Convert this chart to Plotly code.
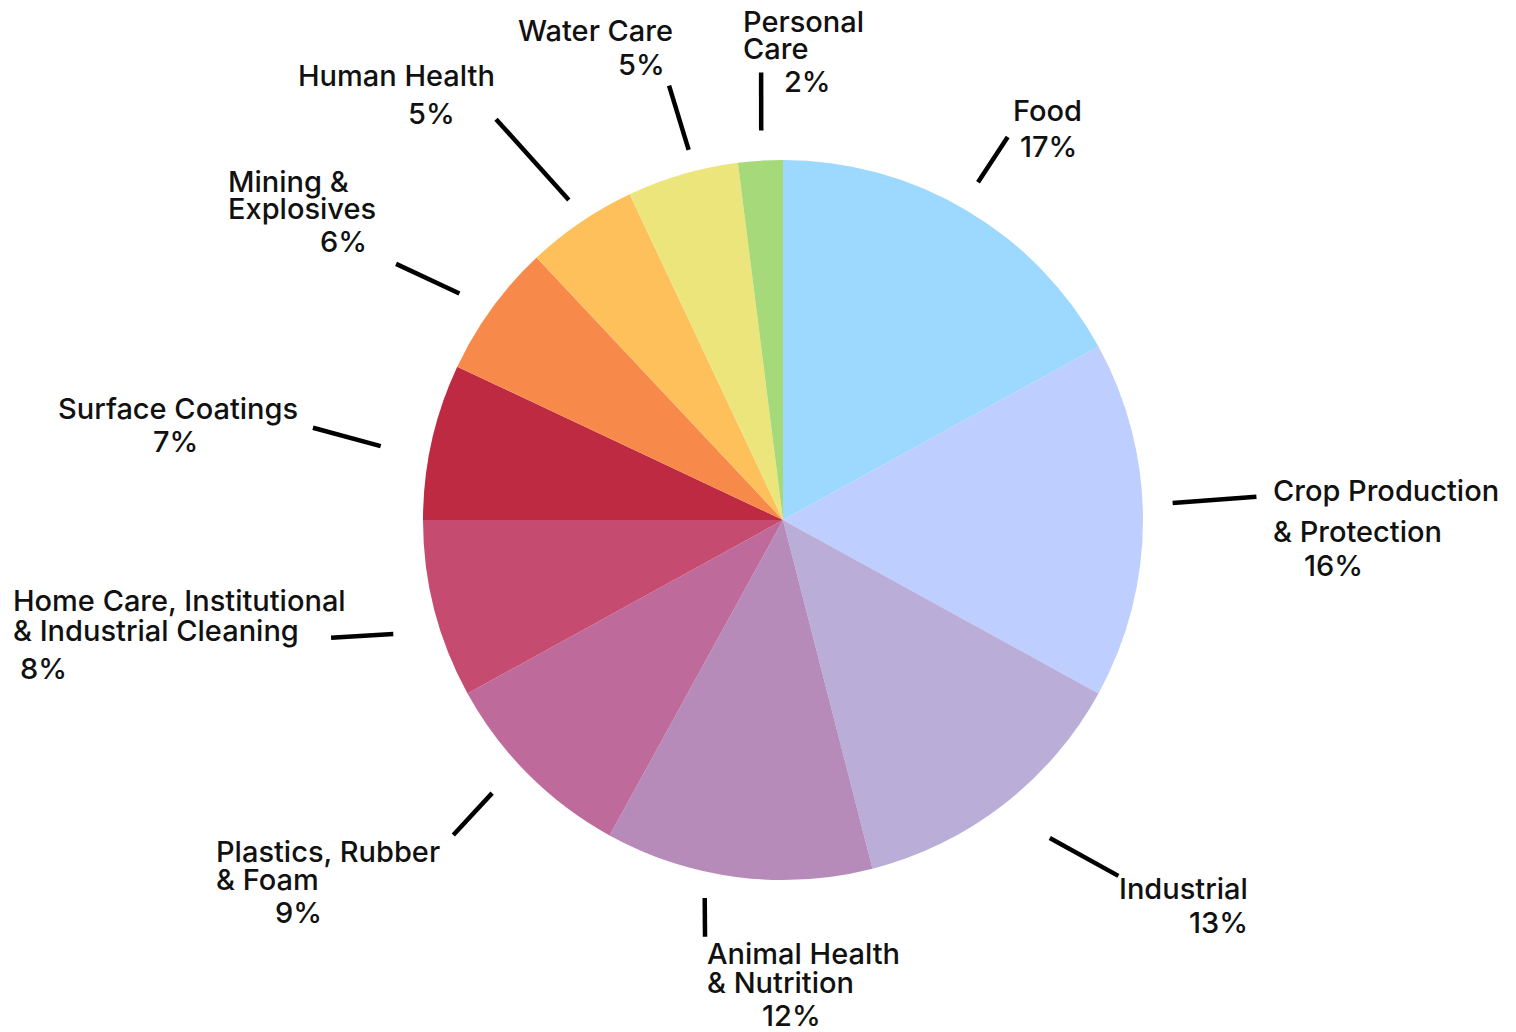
import math
import plotly.graph_objects as go

# ---- data ----
categories = ["Food", "Crop Production & Protection", "Industrial",
              "Animal Health & Nutrition", "Plastics, Rubber & Foam",
              "Home Care, Institutional & Industrial Cleaning",
              "Surface Coatings", "Mining & Explosives", "Human Health",
              "Water Care", "Personal Care"]
values = [17, 16, 13, 12, 9, 8, 7, 6, 5, 5, 2]
label_lines = [["Food"], ["Crop Production", "& Protection"], ["Industrial"],
               ["Animal Health", "& Nutrition"], ["Plastics, Rubber", "& Foam"],
               ["Home Care, Institutional", "& Industrial Cleaning"],
               ["Surface Coatings"], ["Mining &", "Explosives"], ["Human Health"],
               ["Water Care"], ["Personal", "Care"]]
colors = ["#9DD8FE", "#BECEFE", "#BAADD8", "#B68BBA", "#BE6B9B", "#C54B71",
          "#BD2A41", "#F78A4B", "#FEC05B", "#ECE57B", "#A6D97A"]

# ---- layout (pixels) ----
W, H = 1516, 1032
CX, CY, R = 783, 520, 360
FONT = dict(family="Inter", size=29, color="#111111", weight=500)

# leader lines: (angle offset 1, r1, angle offset 2, r2) relative to slice mid-angle
leaders = [(-0.6, 390, -0.2, 444), (-2.5, 390, -2.8, 474), (-2.2, 415, -5.5, 489),
           (4.5, 386, 3.4, 424), (1.8, 399, 1.3, 456), (-1.9, 406, -0.2, 467),
           (-2.2, 409, -1.5, 479), (-1.0, 395, -2.5, 464), (0.4, 385, -1.4, 493),
           (1.9, 382, 1.5, 449), (0.4, 390, 0.8, 448)]
# text line anchors (left x, centre y) for name lines then the percentage line
text_pos = [[(1012, 111), (1019, 146)],
            [(1272, 491), (1272, 531), (1303, 565)],
            [(1118, 888), (1188, 922)],
            [(706, 953), (706, 982), (761, 1015)],
            [(215, 851), (215, 879), (274, 912)],
            [(12, 600), (12, 630), (19, 668)],
            [(57, 408), (152, 441)],
            [(227, 182), (227, 208), (319, 242)],
            [(297, 75), (407, 114)],
            [(517, 30), (617, 64)],
            [(742, 21), (742, 49), (783, 81)]]


def px(x):
    return x / W


def py(y):
    return 1 - y / H


fig = go.Figure(go.Pie(
    labels=categories, values=values, sort=False, direction="clockwise",
    rotation=0, textinfo="none", hoverinfo="label+percent",
    marker=dict(colors=colors, line=dict(width=0)),
    domain=dict(x=[px(CX - R), px(CX + R)], y=[py(CY + R), py(CY - R)]),
    showlegend=False,
))

total = sum(values)
cum = 0
shapes, annotations = [], []
for i, v in enumerate(values):
    mid = (cum + v / 2) / total * 360
    cum += v
    a1, r1, a2, r2 = leaders[i]
    t1 = math.radians(mid + a1)
    t2 = math.radians(mid + a2)
    x1, y1 = CX + r1 * math.sin(t1), CY - r1 * math.cos(t1)
    x2, y2 = CX + r2 * math.sin(t2), CY - r2 * math.cos(t2)
    shapes.append(dict(type="line", xref="paper", yref="paper",
                       x0=px(x1), y0=py(y1), x1=px(x2), y1=py(y2),
                       line=dict(color="black", width=4.5)))
    texts = label_lines[i] + [f"{v}%"]
    for t, (tx, ty) in zip(texts, text_pos[i]):
        annotations.append(dict(text=t, x=px(tx), y=py(ty), xref="paper", yref="paper",
                                xanchor="left", yanchor="middle", showarrow=False,
                                font=FONT, borderpad=0))

fig.update_layout(width=W, height=H, margin=dict(l=0, r=0, t=0, b=0),
                  paper_bgcolor="white", plot_bgcolor="white",
                  shapes=shapes, annotations=annotations)
fig.write_html("out.html", config={"displayModeBar": False},
               post_script="document.body.style.margin='0';")
